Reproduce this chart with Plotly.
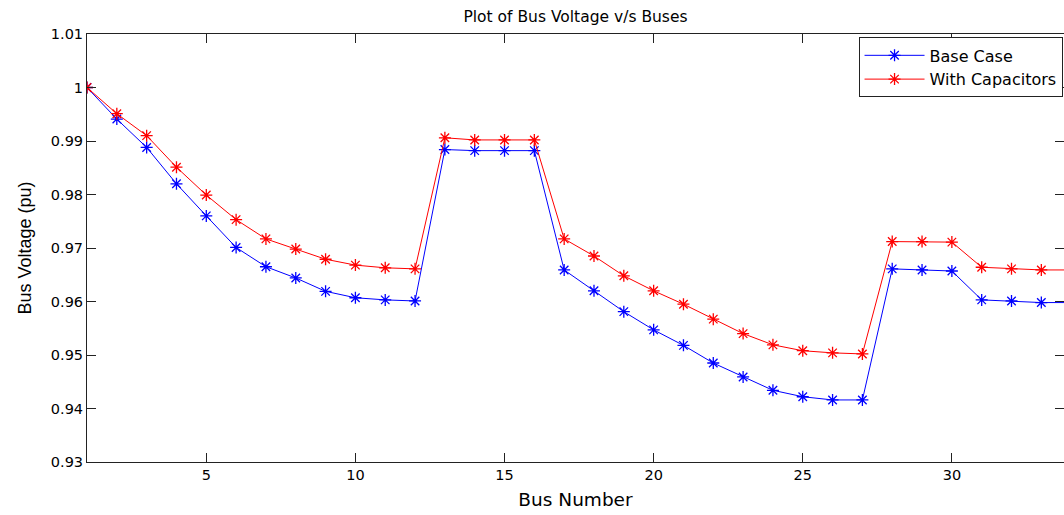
import plotly.graph_objects as go

buses = list(range(1, 35))
base_case = [1.0, 0.9941, 0.9888, 0.9820, 0.9760, 0.9701, 0.9665, 0.9644, 0.9619, 0.9607,
             0.9603, 0.9601, 0.9884, 0.9882, 0.9882, 0.9882, 0.9659, 0.9620, 0.9581, 0.9547,
             0.9518, 0.9485, 0.9459, 0.9434, 0.9422, 0.9416, 0.9416, 0.9661, 0.9659, 0.9657,
             0.9603, 0.9601, 0.9598, 0.9598]
with_caps = [1.0, 0.9951, 0.9910, 0.9851, 0.9799, 0.9753, 0.9717, 0.9698, 0.9679, 0.9668,
             0.9663, 0.9661, 0.9906, 0.9902, 0.9902, 0.9902, 0.9717, 0.9685, 0.9648, 0.9620,
             0.9595, 0.9567, 0.9540, 0.9519, 0.9508, 0.9504, 0.9502, 0.9712, 0.9712, 0.9711,
             0.9664, 0.9661, 0.9659, 0.9659]
series_names = ["Base Case", "With Capacitors"]
x_ticks = [5, 10, 15, 20, 25, 30]
y_ticks = [0.93, 0.94, 0.95, 0.96, 0.97, 0.98, 0.99, 1.0, 1.01]
y_tick_labels = ["0.93", "0.94", "0.95", "0.96", "0.97", "0.98", "0.99", "1", "1.01"]

colors = ["#0000ff", "#ff0000"]
wide_font = "DejaVu Sans, Verdana, sans-serif"
narrow_font = "Liberation Sans, Arial, sans-serif"

fig = go.Figure()
for name, vals, c in zip(series_names, [base_case, with_caps], colors):
    fig.add_trace(go.Scatter(
        x=buses, y=vals, mode="lines+markers", name=name,
        line=dict(color=c, width=1),
        marker=dict(symbol="asterisk-open", size=10, color=c, line=dict(color=c, width=1.3)),
    ))

fig.update_layout(
    width=1064, height=515,
    margin=dict(l=87, r=0, t=34, b=53),
    paper_bgcolor="white", plot_bgcolor="white",
    font=dict(family=wide_font, color="black"),
    title=dict(text="Plot of Bus Voltage v/s Buses",
               font=dict(family=wide_font, size=15.5, color="black"),
               x=0.5, xref="paper", xanchor="center", y=1 - 17 / 515, yref="container",
               yanchor="middle"),
    legend=dict(x=0.9985, y=0.992, xanchor="right", yanchor="top",
                bordercolor="#222222", borderwidth=1, bgcolor="white",
                font=dict(family=wide_font, size=16, color="black"), tracegroupgap=0,
                itemwidth=60),
    showlegend=True,
)
fig.update_xaxes(
    range=[1, 33.76], tickvals=x_ticks, ticks="inside", ticklen=9, tickcolor="#222222",
    showline=True, linecolor="#222222", linewidth=1, mirror="ticks", showgrid=False,
    zeroline=False, tickfont=dict(family=wide_font, size=14.5, color="black"),
    title=dict(text="Bus Number", font=dict(family=wide_font, size=18.5, color="black"),
               standoff=10),
)
fig.update_yaxes(
    range=[0.93, 1.01], tickvals=y_ticks, ticktext=y_tick_labels, ticks="inside", ticklen=9,
    tickcolor="#222222", showline=True, linecolor="#222222", linewidth=1, mirror="ticks",
    showgrid=False, zeroline=False, tickfont=dict(family=wide_font, size=14.5, color="black"),
    title=dict(text="Bus Voltage (pu)", font=dict(family=narrow_font, size=18, color="black"),
               standoff=14),
)

fig.write_html("out.html")
